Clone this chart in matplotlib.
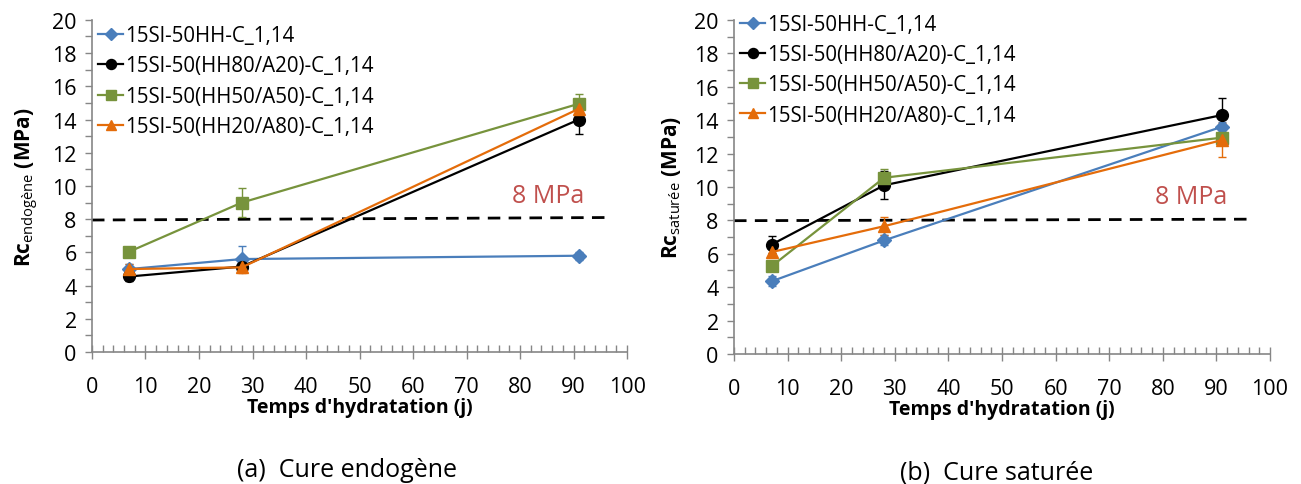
import matplotlib.pyplot as plt
from matplotlib.ticker import MultipleLocator

plt.rcParams['font.family'] = ['Open Sans', 'DejaVu Sans']
plt.rcParams['mathtext.fontset'] = 'custom'
plt.rcParams['mathtext.rm'] = 'Open Sans'
plt.rcParams['mathtext.bf'] = 'Open Sans:bold'

# jours d'hydratation
jours = [7, 28, 91]

series = ['15Sl-50HH-C_1,14',
	'15Sl-50(HH80/A20)-C_1,14',
	'15Sl-50(HH50/A50)-C_1,14',
	'15Sl-50(HH20/A80)-C_1,14']

# (a) cure endogene
endo_hh = [5.0, 5.6, 5.8]
endo_hh80 = [4.55, 5.15, 14.0]
endo_hh50 = [6.05, 9.0, 14.95]
endo_hh20 = [5.0, 5.1, 14.65]
endo_err_hh = [0.3, 0.8, 0.25]
endo_err_hh80 = [0.25, 0.3, 0.9]
endo_err_hh50 = [0.3, 0.85, 0.6]
endo_err_hh20 = [0.3, 0.35, 0.35]

# (b) cure saturee
sat_hh = [4.35, 6.8, 13.6]
sat_hh80 = [6.55, 10.1, 14.3]
sat_hh50 = [5.25, 10.55, 12.95]
sat_hh20 = [6.1, 7.65, 12.8]
sat_err_hh = [0.3, 0.3, 0.3]
sat_err_hh80 = [0.5, 0.85, 1.0]
sat_err_hh50 = [0.3, 0.5, 0.3]
sat_err_hh20 = [0.3, 0.55, 1.0]

# seuil 8 MPa
seuil_x = [0, 96]
seuil_endo_y = [7.95, 8.1]
seuil_sat_y = [7.98, 8.07]

couleurs = ['#4A7EBB', '#000000', '#77933C', '#E46C0A']
marqueurs = ['D', 'o', 's', '^']
tailles = [7, 8.5, 8.5, 9]


def trace(ax, valeurs, erreurs, seuil_y, ylabel, caption, cap_x, leg_y):
	for i in range(4):
		ax.errorbar(jours, valeurs[i], yerr=erreurs[i], fmt='none', ecolor=couleurs[i],
			elinewidth=1.0, capsize=3, capthick=1.0, zorder=3)
		ax.plot(jours, valeurs[i], color=couleurs[i], marker=marqueurs[i],
			markersize=tailles[i], linewidth=1.6, label=series[i], zorder=4 + i * 0.1)
	ax.plot(seuil_x, seuil_y, color='black', linestyle=(0, (4.5, 3)), linewidth=2.0, zorder=2)
	ax.text(78.5, 9.4, '8 MPa', color='#C0504D', fontsize=18, va='center', ha='left')

	ax.set_xlim(0, 100)
	ax.set_ylim(0, 20)
	ax.xaxis.set_major_locator(MultipleLocator(10))
	ax.xaxis.set_minor_locator(MultipleLocator(2))
	ax.yaxis.set_major_locator(MultipleLocator(2))
	ax.yaxis.set_minor_locator(MultipleLocator(1))
	ax.tick_params(axis='x', which='major', direction='inout', length=10, width=1, color='#868686', labelsize=15.5, pad=12)
	ax.tick_params(axis='x', which='minor', direction='in', length=5, width=1, color='#868686')
	ax.tick_params(axis='y', which='major', direction='out', length=5, width=1, color='#868686', labelsize=15.5, pad=6)
	ax.tick_params(axis='y', which='minor', direction='out', length=5, width=1, color='#868686')
	for s in ['top', 'right']:
		ax.spines[s].set_visible(False)
	for s in ['left', 'bottom']:
		ax.spines[s].set_color('#868686')
		ax.spines[s].set_linewidth(1.2)

	ax.set_xlabel("Temps d'hydratation (j)", fontsize=14, fontweight='bold', labelpad=0)
	ax.set_ylabel(ylabel, fontsize=15, fontweight='bold', labelpad=8)
	ax.text(cap_x, -0.352, caption, transform=ax.transAxes, ha='center', va='center', fontsize=18)

	ax.legend(loc='upper left', bbox_to_anchor=(-0.011, leg_y), frameon=False, fontsize=14.8,
		handlelength=1.2, handletextpad=0.1, labelspacing=0.45, borderaxespad=0.2, markerscale=0.85)


fig = plt.figure(figsize=(13.01, 4.85), dpi=100)
ax1 = fig.add_axes([0.0707, 0.272, 0.4113, 0.685])
ax2 = fig.add_axes([0.5642, 0.268, 0.4120, 0.689])

trace(ax1, [endo_hh, endo_hh80, endo_hh50, endo_hh20],
	[endo_err_hh, endo_err_hh80, endo_err_hh50, endo_err_hh20],
	seuil_endo_y, r'Rc$_{\mathrm{endogène}}$ (MPa)', '(a)  Cure endogène', 0.477, 1.021)
trace(ax2, [sat_hh, sat_hh80, sat_hh50, sat_hh20],
	[sat_err_hh, sat_err_hh80, sat_err_hh50, sat_err_hh20],
	seuil_sat_y, r'Rc$_{\mathrm{saturée}}$ (MPa)', '(b)  Cure saturée', 0.49, 1.055)

fig.savefig('out.png', dpi=100)
